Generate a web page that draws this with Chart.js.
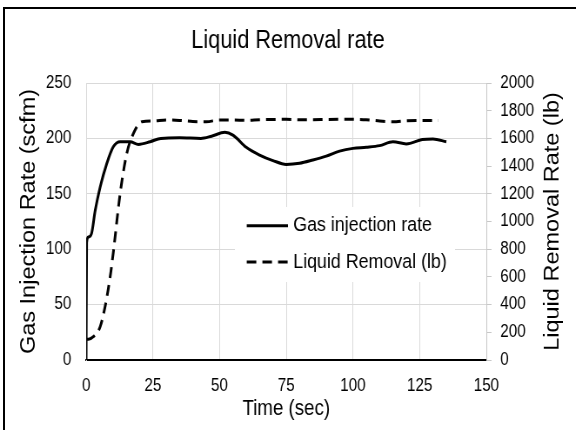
<!DOCTYPE html>
<html>
<head>
<meta charset="utf-8">
<script src="https://cdn.jsdelivr.net/npm/chart.js@4"></script>
<style>
  html, body { margin: 0; padding: 0; background: #fff; overflow: hidden; }
  #frame { position: absolute; left: 3px; top: 7px; width: 700px; height: 600px;
           border-left: 2px solid #000; border-top: 2px solid #000; }
  #wrap { position: absolute; left: 0; top: 0; width: 662px; height: 430px;
          transform: scaleX(0.87); transform-origin: 0 0; }
</style>
</head>
<body>
<div id="frame"></div>
<div id="wrap"><canvas id="chart" width="662" height="430"></canvas></div>
<script>
// time (sec) and gas injection rate (scfm)
const gasTime = [0, 0.2, 0.8, 2, 3.4, 5.25, 7.7, 10.2, 12.75, 16.5, 19.6, 24, 28, 35, 43, 47, 52, 55, 60, 65, 70, 75, 80, 85, 90, 95, 100, 105, 110, 115, 120, 126, 130, 135];
const gasRate = [0, 106, 111, 114, 135, 156, 177, 192.5, 197, 197, 194.6, 197, 200, 200.5, 200, 202, 205.5, 203, 192, 185, 180, 176.5, 177.5, 180.5, 184, 188.5, 191, 192, 193.5, 197, 195, 199, 199.5, 197];

// time (sec) and liquid removal (lb)
const liquidTime = [0, 0.9, 2.7, 5.25, 7.1, 9, 10.2, 12.75, 15.25, 17.75, 20.9, 25, 30, 35, 40, 45, 50, 55, 60, 65, 70, 75, 80, 85, 90, 95, 100, 105, 110, 115, 120, 125, 132];
const liquidRemoval = [150, 150, 168, 240, 385, 601, 780, 1203, 1492, 1637, 1721, 1725, 1733, 1730, 1722, 1720, 1733, 1733, 1730, 1735, 1737, 1738, 1735, 1735, 1737, 1738, 1738, 1735, 1726, 1720, 1728, 1730, 1730];

const seriesLabels = ['Gas injection rate', 'Liquid Removal (lb)'];
const chartTitle = 'Liquid Removal rate';
const xTitle = 'Time (sec)';
const yTitle = 'Gas Injection Rate (scfm)';
const y2Title = 'Liquid Removal Rate (lb)';

Chart.defaults.font.family = '"Liberation Sans", Arial, sans-serif';
Chart.defaults.color = '#000';

const toPoints = (xs, ys) => xs.map((x, i) => ({ x: x, y: ys[i] }));
const plain = v => String(v);

// legend drawn inside the plot, on a white box
const innerLegend = {
    id: 'innerLegend',
    afterDatasetsDraw(chart) {
        const ctx = chart.ctx;
        ctx.save();
        ctx.fillStyle = '#fff';
        ctx.fillRect(270, 207, 253, 75);
        const rows = [225.7, 262];
        chart.data.datasets.forEach((ds, i) => {
            const y = rows[i];
            ctx.strokeStyle = ds.borderColor;
            ctx.lineWidth = ds.borderWidth;
            ctx.setLineDash(ds.borderDash || []);
            ctx.beginPath();
            ctx.moveTo(283.6, y);
            ctx.lineTo(331, y);
            ctx.stroke();
            ctx.setLineDash([]);
            ctx.fillStyle = '#000';
            ctx.font = '20.5px "Liberation Sans", Arial, sans-serif';
            ctx.textAlign = 'left';
            ctx.textBaseline = 'middle';
            ctx.fillText(ds.label, 337, y);
        });
        ctx.restore();
    }
};

// right axis title reads bottom to top
const rightTitle = {
    id: 'rightTitle',
    afterDraw(chart) {
        const ctx = chart.ctx;
        const area = chart.chartArea;
        ctx.save();
        ctx.translate(635.6, (area.top + area.bottom) / 2);
        ctx.rotate(-Math.PI / 2);
        ctx.fillStyle = '#000';
        ctx.font = '23.5px "Liberation Sans", Arial, sans-serif';
        ctx.textAlign = 'center';
        ctx.textBaseline = 'middle';
        ctx.fillText(y2Title, 0, 0);
        ctx.restore();
    }
};

const gridColor = c => (c.tick.value === 0 ? 'rgba(0,0,0,0)' : '#d9d9d9');

new Chart(document.getElementById('chart'), {
    type: 'line',
    data: {
        datasets: [
            {
                label: seriesLabels[0],
                data: toPoints(gasTime, gasRate),
                yAxisID: 'y',
                borderColor: '#000',
                borderWidth: 3,
                pointRadius: 0,
                cubicInterpolationMode: 'monotone',
                fill: false
            },
            {
                label: seriesLabels[1],
                data: toPoints(liquidTime, liquidRemoval),
                yAxisID: 'y2',
                borderColor: '#000',
                borderWidth: 3,
                borderDash: [11, 7],
                pointRadius: 0,
                cubicInterpolationMode: 'monotone',
                fill: false
            }
        ]
    },
    options: {
        responsive: false,
        animation: false,
        events: [],
        layout: { padding: 0 },
        plugins: {
            legend: { display: false },
            tooltip: { enabled: false },
            title: {
                display: true,
                text: chartTitle,
                font: { size: 25, weight: 'normal' },
                color: '#000',
                padding: { top: 26, bottom: 27 }
            }
        },
        scales: {
            x: {
                type: 'linear',
                min: 0,
                max: 150,
                ticks: { stepSize: 25, padding: 16, font: { size: 17.5 }, color: '#000', callback: plain },
                grid: { color: '#d9d9d9', drawTicks: false },
                border: { color: '#000', width: 2 },
                title: { display: true, text: xTitle, font: { size: 21.5 }, color: '#000', padding: { top: 0, bottom: 8 } },
                afterFit: s => { s.height = 70; }
            },
            y: {
                position: 'left',
                min: 0,
                max: 250,
                ticks: { stepSize: 50, padding: 17, font: { size: 17.5 }, color: '#000', callback: plain },
                grid: { color: gridColor, drawTicks: false },
                border: { color: '#d9d9d9', width: 1 },
                title: { display: true, text: yTitle, font: { size: 23.5 }, color: '#000', padding: { top: 19, bottom: 0 } },
                afterFit: s => { s.width = 99; }
            },
            y2: {
                position: 'right',
                min: 0,
                max: 2000,
                ticks: { stepSize: 200, padding: 10, font: { size: 17.5 }, color: '#000', callback: plain },
                grid: { drawOnChartArea: false, color: '#c8c8c8', tickLength: 6 },
                border: { color: '#c8c8c8', width: 1 },
                afterFit: s => { s.width = 103; }
            }
        }
    },
    plugins: [innerLegend, rightTitle]
});
</script>
</body>
</html>
